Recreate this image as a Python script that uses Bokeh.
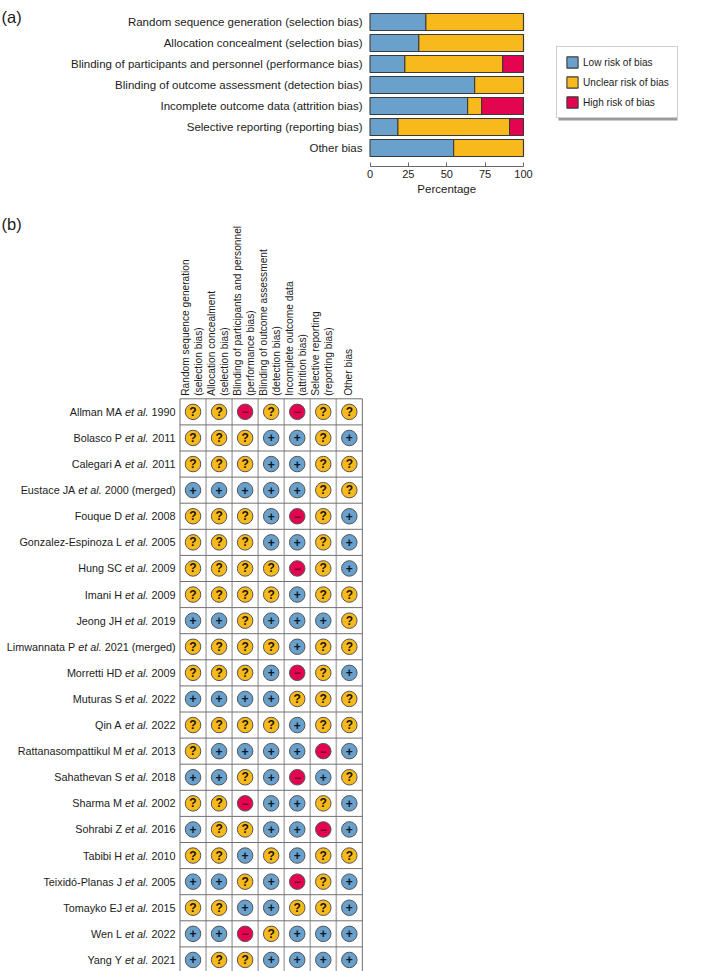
from math import pi
from bokeh.plotting import figure
from bokeh.models import (ColumnDataSource, Range1d, FixedTicker, Label,
                          Legend, LegendItem, BoxAnnotation)
from bokeh.core.properties import value
from bokeh.embed import file_html
from bokeh.resources import INLINE

FONT = "Liberation Sans"
DARK = "#1c1c1c"
BLUE, YELLOW, RED = "#6aa0cc", "#f8b91c", "#e3054f"

domains = ["Random sequence generation (selection bias)",
           "Allocation concealment (selection bias)",
           "Blinding of participants and personnel (performance bias)",
           "Blinding of outcome assessment (detection bias)",
           "Incomplete outcome data (attrition bias)",
           "Selective reporting (reporting bias)",
           "Other bias"]
header_line1 = ["Random sequence generation", "Allocation concealment", "Blinding of participants and personnel",
                "Blinding of outcome assessment", "Incomplete outcome data", "Selective reporting", "Other bias"]
header_line2 = ["(selection bias)", "(selection bias)", "(performance bias)", "(detection bias)",
                "(attrition bias)", "(reporting bias)", ""]
low = [36.4, 31.8, 22.7, 68.2, 63.6, 18.2, 54.5]
unclear = [63.6, 68.2, 63.7, 31.8, 9.1, 72.7, 45.5]
high = [0, 0, 13.6, 0, 27.3, 9.1, 0]
legend_labels = ["Low risk of bias", "Unclear risk of bias", "High risk of bias"]
ticks_pct = [0, 25, 50, 75, 100]

authors = ["Allman MA", "Bolasco P", "Calegari A", "Eustace JA", "Fouque D", "Gonzalez-Espinoza L",
           "Hung SC", "Imani H", "Jeong JH", "Limwannata P", "Morretti HD", "Muturas S", "Qin A",
           "Rattanasompattikul M", "Sahathevan S", "Sharma M", "Sohrabi Z", "Tabibi H",
           "Teixidó-Planas J", "Tomayko EJ", "Wen L", "Yang Y"]
years = ["1990", "2011", "2011", "2000 (merged)", "2008", "2005", "2009", "2009", "2019",
         "2021 (merged)", "2009", "2022", "2022", "2013", "2018", "2002", "2016", "2010",
         "2005", "2015", "2022", "2021"]
ratings = ["??-?-??", "???++?+", "???++??", "+++++??", "???+-?+", "???++?+", "????-?+", "????+??",
           "++?+++?", "????+??", "???+-?+", "++++???", "????+??", "?++++-+", "++?+-+?", "??-++?+",
           "+??++-+", "??+?+??", "++?+-?+", "??++??+", "++-?+++", "+??++++"]

W = dict(zip("abcdefghijklmnopqrstuvwxyz",
             [556,556,500,556,556,278,556,556,222,222,500,222,833,556,556,556,556,333,500,278,556,500,722,500,500,500]))
W.update(dict(zip("ABCDEFGHIJKLMNOPQRSTUVWXYZ",
             [667,667,722,722,667,611,778,722,278,500,667,556,833,722,778,667,778,722,667,611,722,667,944,667,667,611])))
W.update({" ": 278, "-": 333, "(": 333, ")": 333, ".": 278, "ó": 556})
for d in "0123456789":
    W[d] = 556
def tw(s, size):
    return sum(W[c] for c in s) * size / 1000

# ---------- panel (a): the frame fills the canvas; the axis sits inside it ----------
A_H = 205
AXIS_Y = 166
px_per_pct = 1.535
bar_left = 369.5
band = 21.0
to_row = lambda py: (py - 21.5) / band
pa = figure(width=728, height=A_H, output_backend="svg", toolbar_location=None,
            x_range=Range1d(-bar_left / px_per_pct, (728 - bar_left) / px_per_pct),
            y_range=Range1d(to_row(A_H), to_row(0)),
            min_border_left=0, min_border_right=0, min_border_top=0, min_border_bottom=0,
            outline_line_color=None, margin=(0, 0, 0, 0))
pa.grid.visible = False
pa.yaxis.visible = False
src = ColumnDataSource(dict(y=list(range(7)), low=low, unclear=unclear, high=high, name=domains, x0=[0.0] * 7))
bars = pa.hbar_stack(["low", "unclear", "high"], y="y", height=17 / band, source=src,
                     color=None, fill_color=[BLUE, YELLOW, RED], line_color="#3a3a3a", line_width=1.1)
pa.text("x0", "y", text="name", source=src, x_offset=-7.5, text_align="right", text_baseline="middle",
        text_font=value(FONT), text_font_size="11.5px", text_color=DARK)
ax = pa.xaxis[0]
ax.fixed_location = to_row(AXIS_Y)
ax.ticker = FixedTicker(ticks=ticks_pct)
ax.bounds = (0, 100)
ax.major_tick_in, ax.major_tick_out = 4, 0
ax.minor_tick_line_color = None
ax.axis_line_color = ax.major_tick_line_color = "#666666"
ax.major_label_text_font = FONT
ax.major_label_text_font_size = "11px"
ax.major_label_text_color = DARK
ax.major_label_standoff = 3
pa.text(x=[50], y=[to_row(188.7)], text=["Percentage"], text_align="center", text_baseline="middle",
        text_font=value(FONT), text_font_size="11.5px", text_color=DARK)

pa.add_layout(BoxAnnotation(left=558, right=677, top=A_H - 53, bottom=A_H - 120,
                            left_units="screen", right_units="screen", top_units="screen", bottom_units="screen",
                            fill_color="#9a9a9a", fill_alpha=1, line_color=None))
leg = Legend(items=[LegendItem(label=value(l), renderers=[b]) for l, b in zip(legend_labels, bars)],
             location=(556, A_H - 118), orientation="vertical", padding=8, margin=0, spacing=6,
             glyph_width=14, glyph_height=14, label_standoff=4, label_height=14,
             label_text_font=FONT, label_text_font_size="10.1px", label_text_color=DARK,
             border_line_color="#a0a0a0", background_fill_color="white", background_fill_alpha=1)
pa.add_layout(leg, "center")
pa.add_layout(Label(x=1, y=A_H - 16, x_units="screen", y_units="screen", text="(a)", text_font=FONT,
                    text_font_size="16.5px", text_color=DARK, text_baseline="middle"))

# ---------- panel (b) ----------
TOP = 398.3
cell = 26.05
cell_h = 26.1
B_H = 971 - A_H
n = len(authors)
pb = figure(width=728, height=B_H, output_backend="svg", toolbar_location=None,
            x_range=Range1d(-179.5 / cell, (728 - 179.5) / cell),
            y_range=Range1d((971 - TOP) / cell_h, (A_H - TOP) / cell_h),
            min_border_left=0, min_border_right=0, min_border_top=0, min_border_bottom=0,
            outline_line_color=None, margin=(0, 0, 0, 0))
pb.axis.visible = False
pb.grid.visible = False

# grid
pb.segment(x0=list(range(1, 7)), x1=list(range(1, 7)), y0=[0] * 6, y1=[n] * 6, line_color="#b2b2b2", line_width=1.6)
pb.segment(x0=[0] * (n + 1), x1=[7] * (n + 1), y0=list(range(n + 1)), y1=list(range(n + 1)), line_color="#707070", line_width=1)
pb.segment(x0=[0, 7], x1=[0, 7], y0=[0, 0], y1=[n, n], line_color="#707070", line_width=1)

# column headers
hx = [i + 0.5 for i in range(7)]
hs = ColumnDataSource(dict(x=hx, y=[0] * 7, a=header_line1, b=header_line2,
                           oa=[-7.5] * 6 + [-1], ob=[5.5] * 7))
for col, off in [("a", "oa"), ("b", "ob")]:
    pb.text("x", "y", text=col, source=hs, x_offset=off, y_offset=-3, angle=pi / 2, text_align="left",
            text_baseline="middle", text_font=value(FONT), text_font_size="10.2px", text_color=DARK)

# judgement circles
xs, ys, cols, syms, tcols = [], [], [], [], []
cmap = {"+": BLUE, "?": YELLOW, "-": RED}
tmap = {"+": "#0a1620", "?": "#1a1400", "-": "#6d0828"}
smap = {"+": "+", "?": "?", "-": "−"}
for r, row in enumerate(ratings):
    for c, s in enumerate(row):
        xs.append(c + 0.5); ys.append(r + 0.5); cols.append(cmap[s]); syms.append(smap[s]); tcols.append(tmap[s])
cs = ColumnDataSource(dict(x=xs, y=ys, c=cols, s=syms, tc=tcols))
pb.scatter("x", "y", source=cs, marker="circle", size=15.5, fill_color="c", line_color="#555555", line_width=1)
pb.text("x", "y", text="s", source=cs, text_color="tc", text_font=value(FONT), text_font_style="bold",
        text_font_size="12px", text_align="center", text_baseline="middle")

# row labels: author + italic "et al." + year
SIZE = 10.8
RIGHT = -4.5
off_year, off_etal, off_auth = [], [], []
for a, yr in zip(authors, years):
    wy = tw(" " + yr, SIZE)
    we = tw(" et al.", SIZE)
    off_year.append(RIGHT)
    off_etal.append(RIGHT - wy)
    off_auth.append(RIGHT - wy - we)
ls = ColumnDataSource(dict(x=[0.0] * n, y=[i + 0.5 for i in range(n)], a=authors, yr=years, e=["et al."] * n,
                           oa=off_auth, oe=off_etal, oy=off_year))
for txt, off, style in [("a", "oa", "normal"), ("e", "oe", "italic"), ("yr", "oy", "normal")]:
    pb.text("x", "y", text=txt, x_offset=off, source=ls, text_align="right", text_baseline="middle",
            text_font=value(FONT), text_font_size=f"{SIZE}px", text_font_style=style, text_color=DARK)
pb.add_layout(Label(x=1, y=B_H - 18, x_units="screen", y_units="screen", text="(b)", text_font=FONT,
                    text_font_size="16.5px", text_color=DARK, text_baseline="middle"))

open("out.html", "w").write(file_html((pa, pb), INLINE))
